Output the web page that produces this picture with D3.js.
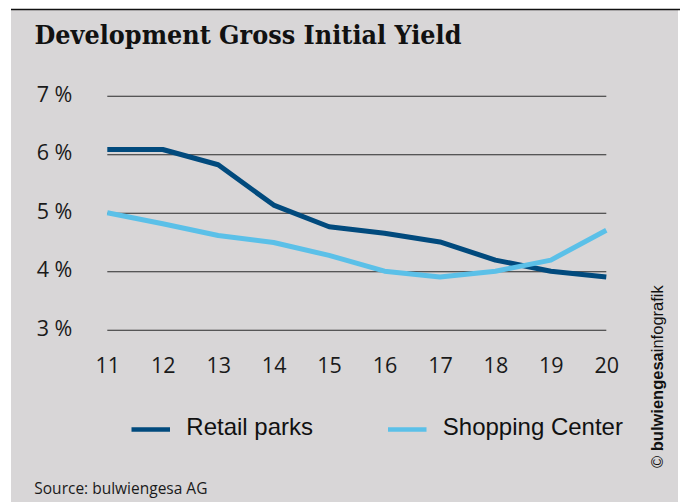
<!DOCTYPE html>
<html>
<head>
<meta charset="utf-8">
<script src="https://cdn.jsdelivr.net/npm/d3@7"></script>
<style>
  html, body { margin: 0; padding: 0; background: #ffffff; }
  svg { display: block; }
</style>
</head>
<body>
<script>
// Years (20xx) and yields in percent
const years = [11, 12, 13, 14, 15, 16, 17, 18, 19, 20];
const retailParks = [6.08, 6.08, 5.82, 5.13, 4.76, 4.65, 4.50, 4.19, 4.00, 3.90];
const shoppingCenter = [5.00, 4.81, 4.61, 4.49, 4.27, 4.00, 3.90, 4.00, 4.19, 4.70];
const yTicks = [3, 4, 5, 6, 7];
const seriesNames = ["Retail parks", "Shopping Center"];
const seriesColors = ["#014a7d", "#5bc0e8"];

const W = 680, H = 502;
const svg = d3.select("body").append("svg").attr("width", W).attr("height", H);

// panel background and top rule
svg.append("rect").attr("x", 11).attr("y", 9).attr("width", 667).attr("height", H - 9).attr("fill", "#d8d6d7");
svg.append("line").attr("x1", 11).attr("x2", 680).attr("y1", 9.5).attr("y2", 9.5)
  .attr("stroke", "#111").attr("stroke-width", 1.6);

// title
svg.append("text")
  .attr("x", 34.5).attr("y", 43.5)
  .attr("font-family", "'DejaVu Serif', serif")
  .attr("font-weight", "bold")
  .attr("font-size", 25.5)
  .attr("fill", "#111")
  .attr("textLength", 427)
  .attr("lengthAdjust", "spacingAndGlyphs")
  .text("Development Gross Initial Yield");

// scales
const x = d3.scaleLinear().domain([11, 20]).range([107.3, 606.3]);
const y = d3.scaleLinear().domain([3, 7]).range([329.7, 95.7]);

// y axis with gridlines
const yAxis = svg.append("g")
  .attr("transform", `translate(${x(11)},0)`)
  .call(d3.axisLeft(y).tickValues(yTicks).tickSize(-(x(20) - x(11))).tickPadding(35)
    .tickFormat(d => d + " %"));
yAxis.select(".domain").remove();
yAxis.selectAll(".tick line").attr("stroke", "#2b2b2b").attr("stroke-width", 1.1);
yAxis.selectAll(".tick text")
  .attr("font-family", "'Open Sans', sans-serif")
  .attr("font-size", 21.5)
  .attr("fill", "#1a1a1a")
  .attr("dy", "0.25em");

// x axis labels
const xAxis = svg.append("g")
  .attr("transform", `translate(0,${y(3)})`)
  .call(d3.axisBottom(x).tickValues(years).tickSize(0).tickPadding(27.7).tickFormat(d3.format("d")));
xAxis.select(".domain").remove();
xAxis.selectAll(".tick text")
  .attr("font-family", "'Open Sans', sans-serif")
  .attr("font-size", 21.5)
  .attr("fill", "#1a1a1a");

// lines
const line = d3.line().x((d, i) => x(years[i])).y(d => y(d));
[retailParks, shoppingCenter].forEach((vals, k) => {
  svg.append("path")
    .datum(vals)
    .attr("d", line)
    .attr("fill", "none")
    .attr("stroke", seriesColors[k])
    .attr("stroke-width", 5)
    .attr("stroke-linejoin", "round");
});

// legend
const legendX = [131.5, 388];
const legend = svg.append("g");
seriesNames.forEach((name, k) => {
  legend.append("line")
    .attr("x1", legendX[k]).attr("x2", legendX[k] + 38.5)
    .attr("y1", 429.6).attr("y2", 429.6)
    .attr("stroke", seriesColors[k]).attr("stroke-width", 4.5);
  legend.append("text")
    .attr("x", legendX[k] + 54.8).attr("y", 435.2)
    .attr("font-family", "'Liberation Sans', Arial, sans-serif")
    .attr("font-size", 24)
    .attr("fill", "#111")
    .text(name);
});

// source note
svg.append("text")
  .attr("x", 34.3).attr("y", 494)
  .attr("font-family", "'Open Sans', sans-serif")
  .attr("font-size", 15.5)
  .attr("fill", "#1a1a1a")
  .text("Source: bulwiengesa AG");

// vertical credit
const credit = svg.append("text")
  .attr("transform", "translate(663,468) rotate(-90)")
  .attr("font-family", "'Liberation Sans', Arial, sans-serif")
  .attr("font-size", 16.5)
  .attr("fill", "#111");
credit.append("tspan").text("© ");
credit.append("tspan").attr("font-weight", "bold").text("bulwiengesa");
credit.append("tspan").text("infografik");
</script>
</body>
</html>
